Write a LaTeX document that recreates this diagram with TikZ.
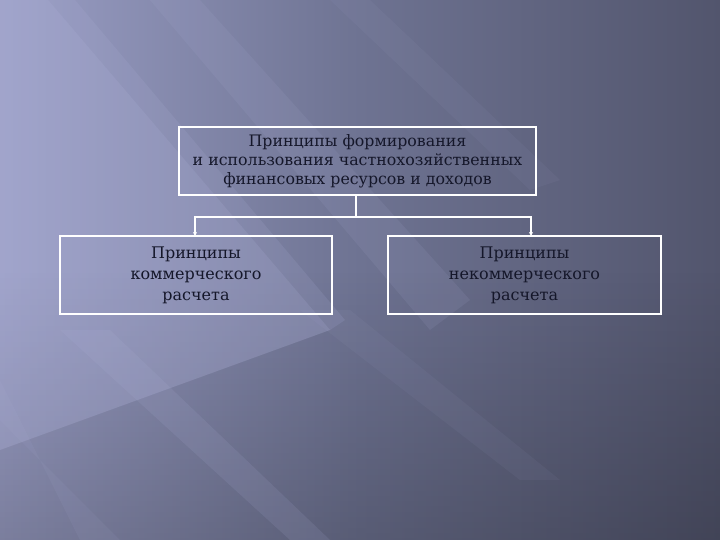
\documentclass[tikz,border=0pt]{standalone}
\usepackage{fontspec}
\setmainfont{DejaVu Serif}
\usetikzlibrary{arrows.meta,fadings}
\definecolor{bgL}{HTML}{9A9EC5}
\definecolor{bgM}{HTML}{6E7392}
\definecolor{bgR}{HTML}{52556D}
\definecolor{lite}{HTML}{B4B7DE}
\definecolor{txt}{HTML}{15172A}
\tikzset{
  box/.style={draw=white, line width=1.8pt, text=txt, align=center, inner sep=0pt},
  conn/.style={draw=white, line width=1.1pt},
  arr/.style={conn, -{Stealth[length=4pt,width=4pt]}}
}
\begin{document}
\begin{tikzpicture}[x=1pt,y=-1pt]
\useasboundingbox (0,0) rectangle (720,540);
% background
\shade[left color=bgL, right color=bgR, middle color=bgM] (0,0) rectangle (720,540);
\fill[black, opacity=0.2, path fading=north] (0,270) rectangle (720,540);
% light region on the left
\fill[lite, opacity=0.28] (0,0) -- (48,0) -- (330,330) -- (0,450) -- cycle;
\fill[lite, opacity=0.14] (48,0) -- (75,0) -- (345,320) -- (330,330) -- cycle;
% streaks
\fill[lite, opacity=0.10] (150,0) -- (200,0) -- (470,300) -- (430,330) -- cycle;
\fill[lite, opacity=0.12] (60,330) -- (110,330) -- (330,540) -- (290,540) -- cycle;
\fill[lite, opacity=0.08] (0,380) -- (0,420) -- (120,540) -- (80,540) -- cycle;
\fill[lite, opacity=0.06] (300,310) -- (350,310) -- (560,480) -- (520,480) -- cycle;
\fill[lite, opacity=0.06] (330,0) -- (370,0) -- (560,180) -- (530,190) -- cycle;
% boxes
\node[box, minimum width=357, minimum height=68, font=\fontsize{15.8}{19}\selectfont] (top) at (357.5,161)
  {Принципы формирования\\и использования частнохозяйственных\\финансовых ресурсов и доходов};
\node[box, minimum width=272, minimum height=78, font=\fontsize{16}{21}\selectfont] (left) at (196,275)
  {Принципы\\коммерческого\\расчета};
\node[box, minimum width=273, minimum height=78, font=\fontsize{16}{21}\selectfont] (right) at (524.5,275)
  {Принципы\\некоммерческого\\расчета};
% connectors
\coordinate (j) at (356,217);
\draw[conn] (top.south -| j) -- (j);
\draw[arr] (j) -- (195,217) -- (195,236);
\draw[arr] (j) -- (531,217) -- (531,236);
\end{tikzpicture}
\end{document}
